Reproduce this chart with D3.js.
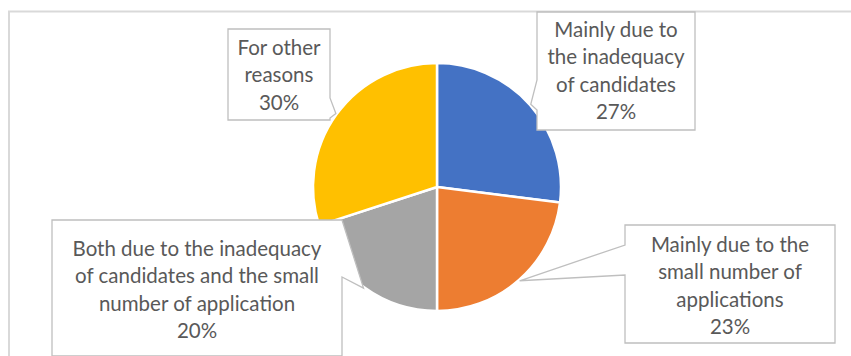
<!DOCTYPE html>
<html>
<head>
<meta charset="utf-8">
<script src="https://cdn.jsdelivr.net/npm/d3@7"></script>
<style>
  html, body { margin: 0; padding: 0; background: #fff; }
  svg { display: block; }
</style>
</head>
<body>
<svg id="chart" width="851" height="356"></svg>
<script>
// Survey answers: why vacancies were not filled
const categories = [
  "Mainly due to the inadequacy of candidates",
  "Mainly due to the small number of applications",
  "Both due to the inadequacy of candidates and the small number of application",
  "For other reasons"
];
const values = [27, 23, 20, 30];
const colors = ["#4472C4", "#ED7D31", "#A5A5A5", "#FFC000"];
// Wrapped label lines, one list per category (the percentage is appended)
const labelLines = [
  ["Mainly due to", "the inadequacy", "of candidates"],
  ["Mainly due to the", "small number of", "applications"],
  ["Both due to the inadequacy", "of candidates and the small", "number of application"],
  ["For other", "reasons"]
];

const width = 851, height = 356;
const cx = 437, cy = 187, radius = 124;

// Callout box layout: box rectangle, the side carrying the pointer and
// the span along that side where the pointer leaves the box
const callouts = [
  { x0: 537, y0: 12,  x1: 695, y1: 130, side: "left",  b0: 80,  b1: 110, firstBaseline: 37 },
  { x0: 625, y0: 225, x1: 835, y1: 343, side: "left",  b0: 245, b1: 275, firstBaseline: 252 },
  { x0: 52,  y0: 220, x1: 342, y1: 356, side: "right", b0: 220, b1: 277, firstBaseline: 256 },
  { x0: 228, y0: 29,  x1: 330, y1: 120, side: "right", b0: 98,  b1: 118, firstBaseline: 55 }
];
const lineHeight = 27.3;

const svg = d3.select("#chart");

// Chart area frame
svg.append("rect")
  .attr("x", 9).attr("y", 11.5)
  .attr("width", 860).attr("height", 360)
  .attr("fill", "none")
  .attr("stroke", "#D9D9D9")
  .attr("stroke-width", 2);

const pie = d3.pie().sort(null).value(d => d)(values);
const arc = d3.arc().innerRadius(0).outerRadius(radius);
const tipArc = d3.arc().innerRadius(radius + 1).outerRadius(radius + 1);

const g = svg.append("g").attr("transform", `translate(${cx},${cy})`);
g.selectAll("path")
  .data(pie)
  .join("path")
  .attr("d", arc)
  .attr("fill", (d, i) => colors[i])
  .attr("stroke", "#fff")
  .attr("stroke-width", 2.5)
  .attr("stroke-linejoin", "round");

// Callouts: white box with a wedge pointing at the middle of its slice
const fmt = d3.format(".0%");
const total = d3.sum(values);

pie.forEach((d, i) => {
  const c = callouts[i];
  const [tx, ty] = tipArc.centroid(d);
  const tip = [cx + tx, cy + ty];
  let pts;
  if (c.side === "left") {
    pts = [[c.x0, c.y0], [c.x1, c.y0], [c.x1, c.y1], [c.x0, c.y1],
           [c.x0, c.b1], tip, [c.x0, c.b0]];
  } else {
    pts = [[c.x0, c.y0], [c.x1, c.y0], [c.x1, c.b0], tip, [c.x1, c.b1],
           [c.x1, c.y1], [c.x0, c.y1]];
  }
  svg.append("path")
    .attr("d", d3.line()(pts) + "Z")
    .attr("fill", "#fff")
    .attr("stroke", "#BFBFBF")
    .attr("stroke-width", 1.3)
    .attr("stroke-linejoin", "miter");

  const lines = labelLines[i].concat([fmt(values[i] / total)]);
  const text = svg.append("text")
    .attr("text-anchor", "middle")
    .attr("font-family", "Lato, 'Open Sans', sans-serif")
    .attr("font-size", 20.5)
    .attr("fill", "#595959");
  lines.forEach((t, k) => {
    text.append("tspan")
      .attr("x", (c.x0 + c.x1) / 2)
      .attr("y", c.firstBaseline + k * lineHeight)
      .text(t);
  });
});
</script>
</body>
</html>
